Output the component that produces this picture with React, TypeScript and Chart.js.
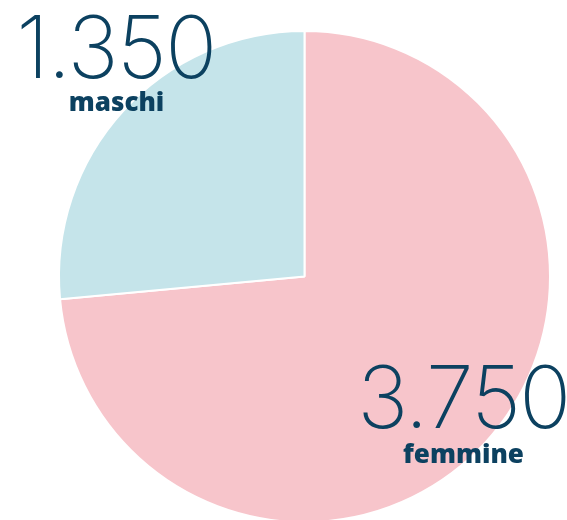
import React, { useEffect, useRef } from "react";
import { Chart, registerables } from "chart.js";

Chart.register(...registerables);

const categories = ["femmine", "maschi"];
const values = [3750, 1350];
const sliceColors = ["#F7C5CB", "#C5E4EA"];
const textColor = "#0C4160";

const formatIt = (n: number) => String(n).replace(/\B(?=(\d{3})+(?!\d))/g, ".");

const labelPlugin = {
  id: "bigLabels",
  afterDraw(chart: any) {
    const ctx = chart.ctx;
    const spots = [
      { numX: 463.5, numY: 428, catX: 463.5, catY: 463 },
      { numX: 116, numY: 78, catX: 116.5, catY: 111 },
    ];
    ctx.save();
    ctx.fillStyle = textColor;
    ctx.textAlign = "center";
    ctx.textBaseline = "alphabetic";
    categories.forEach((c, i) => {
      const s = spots[i];
      ctx.font = "200 86px Inter";
      (ctx as any).letterSpacing = "-1.5px";
      ctx.fillText(formatIt(values[i]), s.numX, s.numY);
      (ctx as any).letterSpacing = "0px";
      ctx.font = "800 26px 'Open Sans'";
      ctx.fillText(c, s.catX, s.catY);
    });
    ctx.restore();
  },
};

export default function App() {
  const ref = useRef<HTMLCanvasElement>(null);
  useEffect(() => {
    document.body.style.margin = "0";
    const chart = new Chart(ref.current!, {
      type: "pie",
      data: {
        labels: categories,
        datasets: [
          {
            data: values,
            backgroundColor: sliceColors,
            borderColor: "#ffffff",
            borderWidth: 2,
          },
        ],
      },
      options: {
        animation: false,
        responsive: false,
        layout: { padding: { left: 58, top: 30, right: 16, bottom: 7 } },
        plugins: { legend: { display: false }, tooltip: { enabled: false } },
      },
      plugins: [labelPlugin],
    });
    return () => chart.destroy();
  }, []);
  return (
    <div style={{ position: "fixed", left: 0, top: 0, width: 567, height: 520, overflow: "hidden", background: "#fff" }}>
      <canvas ref={ref} width={567} height={530} style={{ display: "block" }} />
    </div>
  );
}
